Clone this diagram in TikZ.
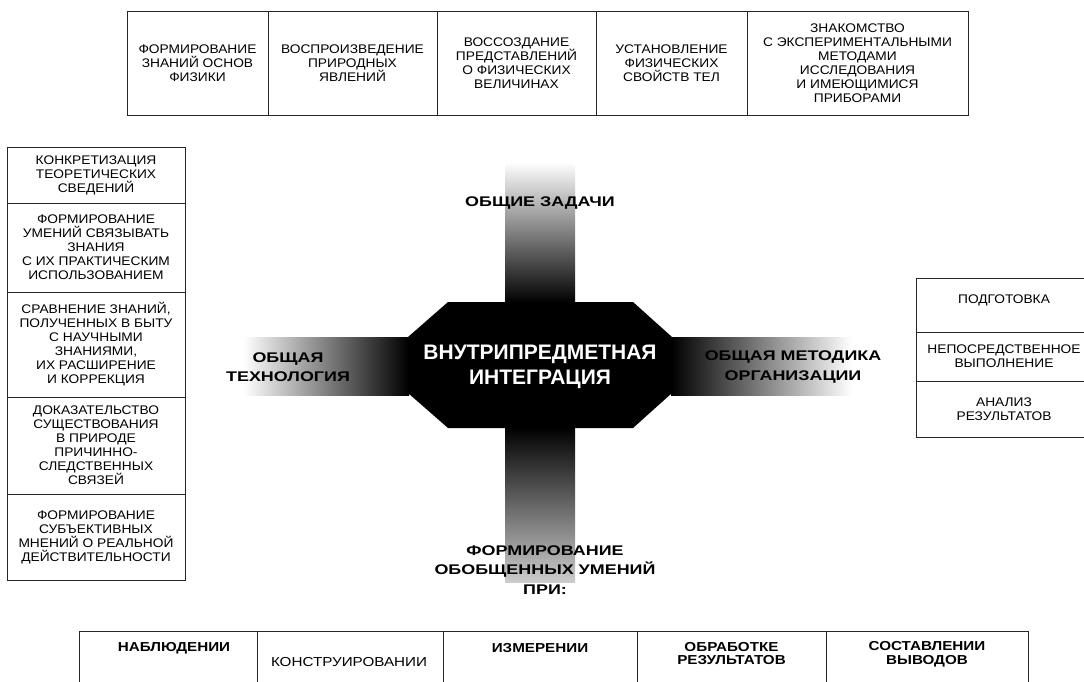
\documentclass[tikz,border=0pt]{standalone}
\usepackage{fontspec}
\setmainfont{Liberation Sans}[FakeStretch=1.1]
\newfontfamily\hdrfont{Liberation Sans}[FakeStretch=1.28]
\newfontfamily\ctrfont{Liberation Sans}[FakeStretch=1.0]
\newfontfamily\botfont{Liberation Sans}[FakeStretch=1.17]
\begin{document}
\begin{tikzpicture}[x=1pt,y=-1pt,
  cell/.style={draw=black!85,line width=0.9pt,inner sep=0pt,align=center,
    font=\fontsize{12.5}{14}\selectfont},
  hdr/.style={align=center,font=\hdrfont\bfseries\fontsize{14}{19.5}\selectfont},
  botcell/.style={draw=black!85,line width=0.9pt,inner sep=0pt},
  bottxt/.style={align=center,font=\botfont\bfseries\fontsize{13}{13.5}\selectfont}]
\clip (0,0) rectangle (1084,681);
\fill[white] (0,0) rectangle (1084,681);

% ---------- top row ----------
\node[cell,minimum width=141,minimum height=104] (t1) at (197.5,63) {ФОРМИРОВАНИЕ\\ЗНАНИЙ ОСНОВ\\ФИЗИКИ};
\node[cell,minimum width=169,minimum height=104] (t2) at (352.5,63) {ВОСПРОИЗВЕДЕНИЕ\\ПРИРОДНЫХ\\ЯВЛЕНИЙ};
\node[cell,minimum width=159,minimum height=104] (t3) at (516.5,63) {ВОССОЗДАНИЕ\\ПРЕДСТАВЛЕНИЙ\\О ФИЗИЧЕСКИХ\\ВЕЛИЧИНАХ};
\node[cell,minimum width=151,minimum height=104] (t4) at (671.5,63) {УСТАНОВЛЕНИЕ\\ФИЗИЧЕСКИХ\\СВОЙСТВ ТЕЛ};
\node[cell,minimum width=221,minimum height=104] (t5) at (857.5,63) {ЗНАКОМСТВО\\С ЭКСПЕРИМЕНТАЛЬНЫМИ\\МЕТОДАМИ\\ИССЛЕДОВАНИЯ\\И ИМЕЮЩИМИСЯ\\ПРИБОРАМИ};

% ---------- left column ----------
\node[cell,minimum width=178,minimum height=56] (l1) at (96,175) {КОНКРЕТИЗАЦИЯ\\ТЕОРЕТИЧЕСКИХ\\СВЕДЕНИЙ};
\node[cell,minimum width=178,minimum height=89] (l2) at (96,247.5) {ФОРМИРОВАНИЕ\\УМЕНИЙ СВЯЗЫВАТЬ\\ЗНАНИЯ\\С ИХ ПРАКТИЧЕСКИМ\\ИСПОЛЬЗОВАНИЕМ};
\node[cell,minimum width=178,minimum height=105] (l3) at (96,344.5) {СРАВНЕНИЕ ЗНАНИЙ,\\ПОЛУЧЕННЫХ В БЫТУ\\С НАУЧНЫМИ\\ЗНАНИЯМИ,\\ИХ РАСШИРЕНИЕ\\И КОРРЕКЦИЯ};
\node[cell,minimum width=178,minimum height=97] (l4) at (96,445.5) {ДОКАЗАТЕЛЬСТВО\\СУЩЕСТВОВАНИЯ\\В ПРИРОДЕ\\ПРИЧИННО-\\СЛЕДСТВЕННЫХ\\СВЯЗЕЙ};
\node[cell,minimum width=178,minimum height=86] (l5) at (96,537) {ФОРМИРОВАНИЕ\\СУБЪЕКТИВНЫХ\\МНЕНИЙ О РЕАЛЬНОЙ\\ДЕЙСТВИТЕЛЬНОСТИ};

% ---------- right column ----------
\node[cell,minimum width=176,minimum height=54] (r1) at (1004,305) {};
\node[font=\fontsize{12.5}{14}\selectfont] (r1t) at (1004,300) {ПОДГОТОВКА};
\node[cell,minimum width=176,minimum height=49] (r2) at (1004,356.5) {НЕПОСРЕДСТВЕННОЕ\\ВЫПОЛНЕНИЕ};
\node[cell,minimum width=176,minimum height=56] (r3) at (1004,409) {АНАЛИЗ\\РЕЗУЛЬТАТОВ};

% ---------- bottom row ----------
\node[botcell,minimum width=178,minimum height=70] (b1) at (168,666) {};
\node[botcell,minimum width=186,minimum height=70] (b2) at (350,666) {};
\node[botcell,minimum width=194,minimum height=70] (b3) at (540,666) {};
\node[botcell,minimum width=189,minimum height=70] (b4) at (731.5,666) {};
\node[botcell,minimum width=202,minimum height=70] (b5) at (927,666) {};
\node[bottxt] (b1t) at (174,648) {НАБЛЮДЕНИИ};
\node[bottxt,font=\botfont\fontsize{13}{13.5}\selectfont] (b2t) at (349,662) {КОНСТРУИРОВАНИИ};
\node[bottxt] (b3t) at (540,648) {ИЗМЕРЕНИИ};
\node[bottxt] (b4t) at (731.5,653.5) {ОБРАБОТКЕ\\РЕЗУЛЬТАТОВ};
\node[bottxt] (b5t) at (927,654) {СОСТАВЛЕНИИ\\ВЫВОДОВ};

% ---------- gradient bars ----------
\shade[top color=white,bottom color=black] (505,162) rectangle (575,303);
\shade[top color=black,bottom color=black!20] (505,427) rectangle (575,582);
\shade[left color=white,right color=black] (243,337) rectangle (409,395);
\shade[left color=black,right color=white] (671,337) rectangle (852,395);

% ---------- centre octagon ----------
\fill[black] (448,302) -- (633,302) -- (672,337) -- (672,393) -- (633,428)
  -- (448,428) -- (408,393) -- (408,337) -- cycle;
\node[align=center,text=white,font=\ctrfont\bfseries\fontsize{21}{25}\selectfont] (ctr) at (540,367) {ВНУТРИПРЕДМЕТНАЯ\\ИНТЕГРАЦИЯ};

% ---------- labels ----------
\node[hdr] (lt) at (540,203) {ОБЩИЕ ЗАДАЧИ};
\node[hdr] (ll) at (288,367) {ОБЩАЯ\\ТЕХНОЛОГИЯ};
\node[hdr] (lr) at (793,367) {ОБЩАЯ МЕТОДИКА\\ОРГАНИЗАЦИИ};
\node[hdr] (lb) at (545,570) {ФОРМИРОВАНИЕ\\ОБОБЩЕННЫХ УМЕНИЙ\\ПРИ:};
\end{tikzpicture}
\end{document}
